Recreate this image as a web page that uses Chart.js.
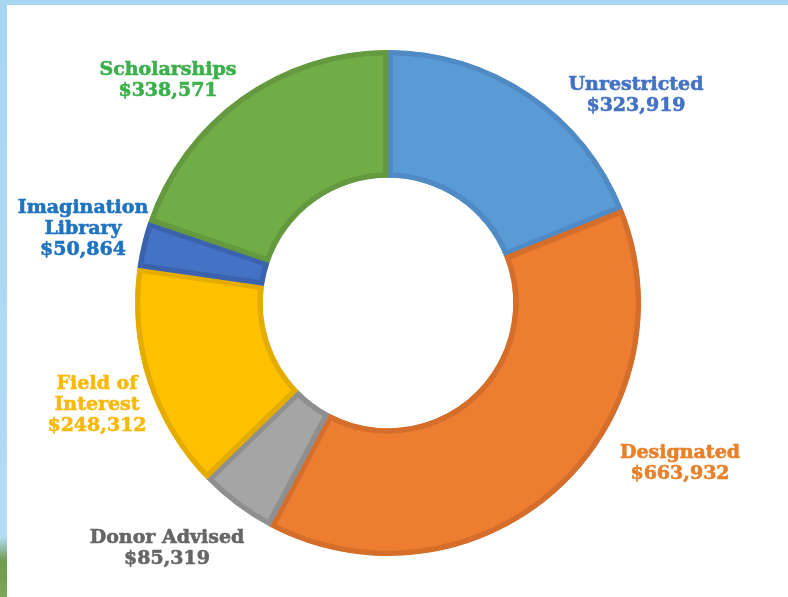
<!DOCTYPE html>
<html>
<head>
<meta charset="utf-8">
<script src="https://cdn.jsdelivr.net/npm/chart.js@4"></script>
<style>
  html, body { margin: 0; padding: 0; }
  body {
    width: 788px; height: 597px; overflow: hidden;
    background: linear-gradient(180deg, #a7d6f1 0%, #b4dcf3 90%, #6f9a4e 94%, #7ea35a 100%);
    position: relative;
  }
  #panel {
    position: absolute; left: 7px; top: 5px; right: 0; bottom: 0;
    background: #ffffff;
  }
  #wrap { position: absolute; left: 0; top: 0; width: 788px; height: 597px; }
</style>
</head>
<body>
<div id="panel"></div>
<div id="wrap"><canvas id="fundChart" width="788" height="597"></canvas></div>
<script>
const categories = ["Unrestricted", "Designated", "Donor Advised", "Field of Interest", "Imagination Library", "Scholarships"];
const amounts = [323919, 663932, 85319, 248312, 50864, 338571];
const labelLines = [["Unrestricted"], ["Designated"], ["Donor Advised"], ["Field of", "Interest"], ["Imagination", "Library"], ["Scholarships"]];

const fillColors = ["#5b9bd5", "#ed7d31", "#a5a5a5", "#ffc000", "#4472c4", "#70ad47"];
const edgeColors = ["#4f8ac4", "#d46e2a", "#8f8f8f", "#e5ac00", "#3b63ad", "#64993f"];
const textColors = ["#4472c4", "#e8812a", "#666666", "#f9b80c", "#1f74c0", "#3bb04b"];
// label centre (x) and first line baseline (y), canvas pixels
const labelSpots = [[636, 90], [680, 458], [167, 543], [97, 389], [83, 213], [168, 75]];

const money = v => "$" + v.toLocaleString("en-US");

const outsideLabels = {
  id: "outsideLabels",
  afterDraw(chart) {
    const ctx = chart.ctx;
    ctx.save();
    ctx.font = "bold 19px 'DejaVu Serif', Georgia, serif";
    ctx.textAlign = "center";
    ctx.textBaseline = "alphabetic";
    ctx.lineWidth = 0.6;
    chart.getDatasetMeta(0).data.forEach((arc, i) => {
      const lines = labelLines[i].concat([money(amounts[i])]);
      const [x, y] = labelSpots[i];
      ctx.fillStyle = textColors[i];
      ctx.strokeStyle = textColors[i];
      lines.forEach((t, k) => {
        ctx.fillText(t, x, y + k * 21);
        ctx.strokeText(t, x, y + k * 21);
      });
    });
    ctx.restore();
  }
};

let fundChart = new Chart(document.getElementById("fundChart").getContext("2d"), {
  type: "doughnut",
  data: {
    labels: categories,
    datasets: [
      {
        data: amounts,
        backgroundColor: fillColors,
        borderColor: edgeColors,
        borderWidth: 5,
        borderAlign: "inner",
        hoverBorderWidth: 5,
      },
    ],
  },
  options: {
    responsive: false,
    animation: false,
    cutout: "49.5%",
    layout: {
      padding: { left: 135, right: 147, top: 50, bottom: 41 },
    },
    plugins: {
      legend: { display: false },
      tooltip: { enabled: false },
    },
  },
  plugins: [outsideLabels],
});
</script>
</body>
</html>
